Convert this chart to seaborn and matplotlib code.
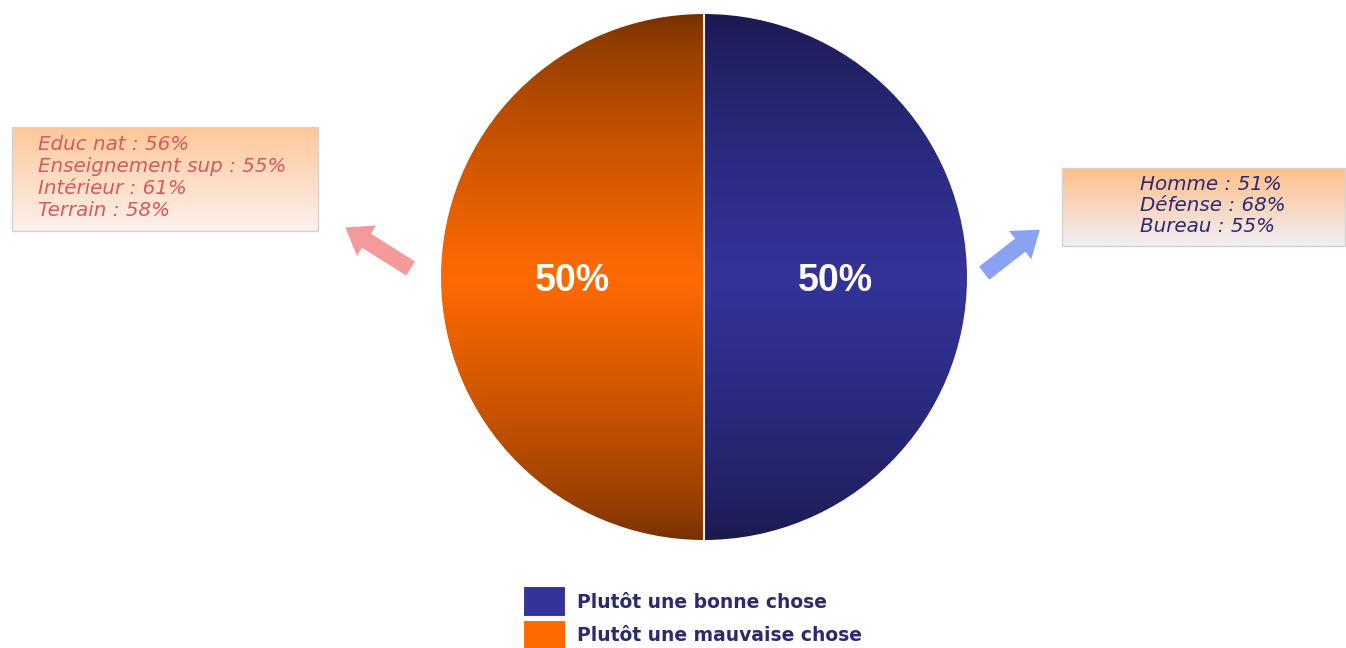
import numpy as np
import matplotlib
matplotlib.use("Agg")
import matplotlib.pyplot as plt
from matplotlib.colors import to_rgb
import seaborn as sns

# data
categories = ["Plutôt une bonne chose", "Plutôt une mauvaise chose"]
shares = [50, 50]
left_notes = ["Educ nat : 56%", "Enseignement sup : 55%", "Intérieur : 61%", "Terrain : 58%"]
right_notes = ["Homme : 51%", "Défense : 68%", "Bureau : 55%"]

sns.set_theme(style="white")
plt.rcParams["font.family"] = ["DejaVu Sans"]

W, H = 1346, 648
fig = plt.figure(figsize=(W / 100, H / 100), dpi=100)
ax = fig.add_axes([0, 0, 1, 1])

cx, cy, r = 704, 277, 263
mid_cols = ["#34339a", "#ff6a00"]
edge_cols = ["#1a1a4e", "#743000"]


def vgradient(c_edge, c_mid, n=256):
    t = np.linspace(0, 1, n)
    f = 1 - np.abs(t - 0.5) * 2
    f = f ** 0.7
    a, b = np.array(to_rgb(c_edge)), np.array(to_rgb(c_mid))
    rows = a[None, :] + (b - a)[None, :] * f[:, None]
    return np.repeat(rows[:, None, :], 4, axis=1)


wedges, texts, autotexts = ax.pie(
    shares, center=(cx, cy), radius=r, startangle=90, counterclock=False,
    colors=mid_cols, autopct="%d%%", pctdistance=0.5,
    wedgeprops=dict(edgecolor="white", linewidth=1.5),
    textprops=dict(color="white", fontsize=27, fontweight="bold",
                   family="Liberation Sans"))

for w, ce, cm in zip(wedges, edge_cols, mid_cols):
    im = ax.imshow(vgradient(ce, cm), extent=(cx - r, cx + r, cy + r, cy - r),
                   aspect="auto", zorder=1.5, interpolation="bilinear")
    im.set_clip_path(w)
for t in autotexts:
    t.set_zorder(5)
    t.set_y(cy + 4)
ax.plot([cx, cx], [cy - r, cy + r], color="#f4efe6", lw=1.5, zorder=4)


def box(x0, y0, x1, y1, top, bottom):
    t = np.linspace(0, 1, 64)
    a, b = np.array(to_rgb(top)), np.array(to_rgb(bottom))
    img = (a[None, :] + (b - a)[None, :] * t[:, None])[:, None, :].repeat(2, axis=1)
    ax.imshow(img, extent=(x0, x1, y1, y0), aspect="auto", zorder=1)
    ax.plot([x0, x1, x1, x0, x0], [y0, y0, y1, y1, y0], color="#d6d2d0", lw=1, zorder=2)


box(12, 127, 318, 231, "#ffc898", "#fcf1ee")
for i, s in enumerate(left_notes):
    ax.text(38, 145 + i * 21.7, s, color="#d45c5c", fontsize=14.3, style="italic",
            va="center", ha="left", zorder=3)

box(1062, 168, 1345, 246, "#ffc088", "#f1eef8")
for i, s in enumerate(right_notes):
    ax.text(1140, 185 + i * 20.5, s, color="#2f2a70", fontsize=14.3, style="italic",
            va="center", ha="left", zorder=3)

ax.annotate("", xy=(343, 226), xytext=(413, 270),
            arrowprops=dict(arrowstyle="simple,head_length=0.9,head_width=1.3,tail_width=0.6",
                            mutation_scale=20, color="#f49a9a", lw=0))
ax.annotate("", xy=(1042, 228), xytext=(982, 275),
            arrowprops=dict(arrowstyle="simple,head_length=0.9,head_width=1.3,tail_width=0.6",
                            mutation_scale=20, color="#8aa2f2", lw=0))

leg = ax.legend(wedges, categories, loc="upper left", bbox_to_anchor=(523 / W, 1 - 586 / H),
                frameon=False, borderpad=0, borderaxespad=0, handlelength=2.3,
                handleheight=2.2, handletextpad=0.6, labelspacing=0.12,
                prop=dict(size=13.5, weight="bold"))
for txt in leg.get_texts():
    txt.set_color("#2c2a6e")

ax.set_xlim(0, W)
ax.set_ylim(H, 0)
ax.set_aspect("equal")
ax.axis("off")

fig.savefig("out.png", dpi=100, facecolor="white")
